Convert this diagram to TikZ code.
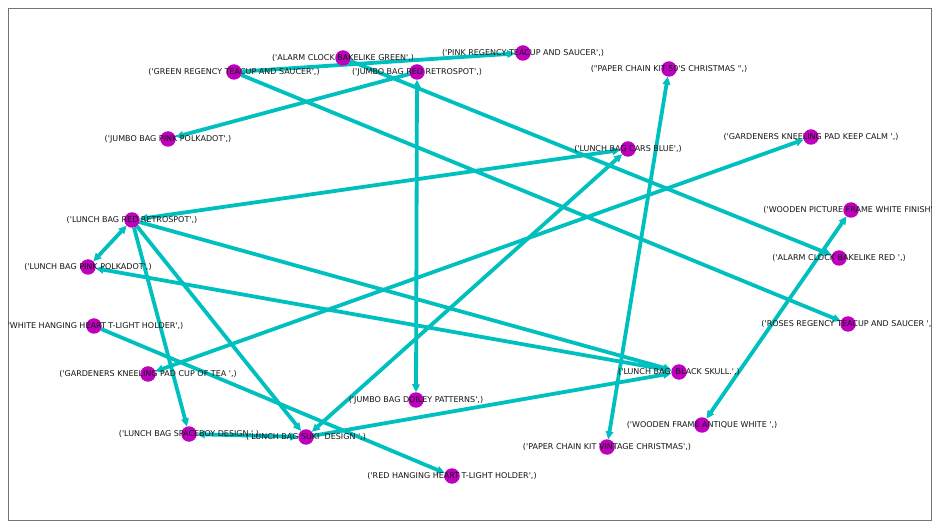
\documentclass[tikz,border=0pt]{standalone}
\usepackage{fontspec}
\newfontfamily\lblfont{DejaVu Sans}[Ligatures=TeXOff]
\usetikzlibrary{arrows.meta}
\pgfdeclarelayer{background}
\pgfsetlayers{background,main}
\definecolor{edgec}{rgb}{0,0.75,0.75}
\definecolor{nodec}{rgb}{0.75,0,0.75}
\tikzset{
  pt/.style={circle, fill=nodec, minimum size=15.5pt, inner sep=0pt, outer sep=0pt},
  lbl/.style={font=\lblfont\fontsize{8}{9}\selectfont, inner sep=0pt, text=black!92},
  edge/.style={draw=edgec, line width=3.8pt, -{Triangle[length=8pt,width=7.5pt]}},
  bedge/.style={draw=edgec, line width=3.8pt, {Triangle[length=8pt,width=7.5pt]}-{Triangle[length=8pt,width=7.5pt]}},
  frame/.style={draw=black!55, line width=1pt}
}
\begin{document}
\begin{tikzpicture}[x=1pt,y=-1pt]
\useasboundingbox (0,0) rectangle (940,529);
\draw[frame] (8.5,9) rectangle (931,520);
% nodes
\node[pt] (agrn) at (343,58) {};
\node[pt] (grnreg) at (234,72) {};
\node[pt] (jred) at (417,72) {};
\node[pt] (pinkreg) at (523,53) {};
\node[pt] (pc50) at (669,69) {};
\node[pt] (jpink) at (168,139) {};
\node[pt] (cars) at (628,149) {};
\node[pt] (calm) at (811,137) {};
\node[pt] (lred) at (132,220) {};
\node[pt] (lpink) at (88,267) {};
\node[pt] (white) at (94,326) {};
\node[pt] (wpic) at (851,210) {};
\node[pt] (ared) at (839,258) {};
\node[pt] (roses) at (848,324) {};
\node[pt] (tea) at (148,374) {};
\node[pt] (doily) at (416,400) {};
\node[pt] (space) at (189,434) {};
\node[pt] (suki) at (306,437) {};
\node[pt] (rheart) at (452,476) {};
\node[pt] (skull) at (679,372) {};
\node[pt] (wanti) at (702,425) {};
\node[pt] (pcvin) at (607,447) {};
% edges
\begin{pgfonlayer}{background}
\draw[edge] (grnreg) -- (pinkreg);
\draw[edge] (grnreg) -- (roses);
\draw[edge] (agrn) -- (ared);
\draw[bedge] (jred) -- (doily);
\draw[edge] (jred) -- (jpink);
\draw[bedge] (pc50) -- (pcvin);
\draw[bedge] (lred) -- (cars);
\draw[bedge] (cars) -- (suki);
\draw[bedge] (calm) -- (tea);
\draw[bedge] (lred) -- (lpink);
\draw[edge] (lred) -- (space);
\draw[edge] (lred) -- (suki);
\draw[edge] (lred) -- (skull);
\draw[bedge] (lpink) -- (skull);
\draw[edge] (white) -- (rheart);
\draw[bedge] (space) -- (suki);
\draw[edge] (suki) -- (skull);
\draw[bedge] (wpic) -- (wanti);
\end{pgfonlayer}
% labels
\begin{scope}
\clip (8.5,9) rectangle (931,520);
\node[lbl] (agrn-l) at (agrn) {('ALARM CLOCK BAKELIKE GREEN',)};
\node[lbl] (grnreg-l) at (grnreg) {('GREEN REGENCY TEACUP AND SAUCER',)};
\node[lbl] (jred-l) at (jred) {('JUMBO BAG RED RETROSPOT',)};
\node[lbl] (pinkreg-l) at (pinkreg) {('PINK REGENCY TEACUP AND SAUCER',)};
\node[lbl] (pc50-l) at (pc50) {("PAPER CHAIN KIT 50'S CHRISTMAS ",)};
\node[lbl] (jpink-l) at (jpink) {('JUMBO BAG PINK POLKADOT',)};
\node[lbl] (cars-l) at (cars) {('LUNCH BAG CARS BLUE',)};
\node[lbl] (calm-l) at (calm) {('GARDENERS KNEELING PAD KEEP CALM ',)};
\node[lbl] (lred-l) at (lred) {('LUNCH BAG RED RETROSPOT',)};
\node[lbl] (lpink-l) at (lpink) {('LUNCH BAG PINK POLKADOT',)};
\node[lbl] (white-l) at (white) {('WHITE HANGING HEART T-LIGHT HOLDER',)};
\node[lbl] (wpic-l) at (wpic) {('WOODEN PICTURE FRAME WHITE FINISH',)};
\node[lbl] (ared-l) at (ared) {('ALARM CLOCK BAKELIKE RED ',)};
\node[lbl] (roses-l) at (roses) {('ROSES REGENCY TEACUP AND SAUCER ',)};
\node[lbl] (tea-l) at (tea) {('GARDENERS KNEELING PAD CUP OF TEA ',)};
\node[lbl] (doily-l) at (doily) {('JUMBO BAG DOILEY PATTERNS',)};
\node[lbl] (space-l) at (space) {('LUNCH BAG SPACEBOY DESIGN ',)};
\node[lbl] (suki-l) at (suki) {('LUNCH BAG SUKI\ \ DESIGN ',)};
\node[lbl] (rheart-l) at (rheart) {('RED HANGING HEART T-LIGHT HOLDER',)};
\node[lbl] (skull-l) at (skull) {('LUNCH BAG\ \ BLACK SKULL.',)};
\node[lbl] (wanti-l) at (wanti) {('WOODEN FRAME ANTIQUE WHITE ',)};
\node[lbl] (pcvin-l) at (pcvin) {('PAPER CHAIN KIT VINTAGE CHRISTMAS',)};
\end{scope}
\end{tikzpicture}
\end{document}
